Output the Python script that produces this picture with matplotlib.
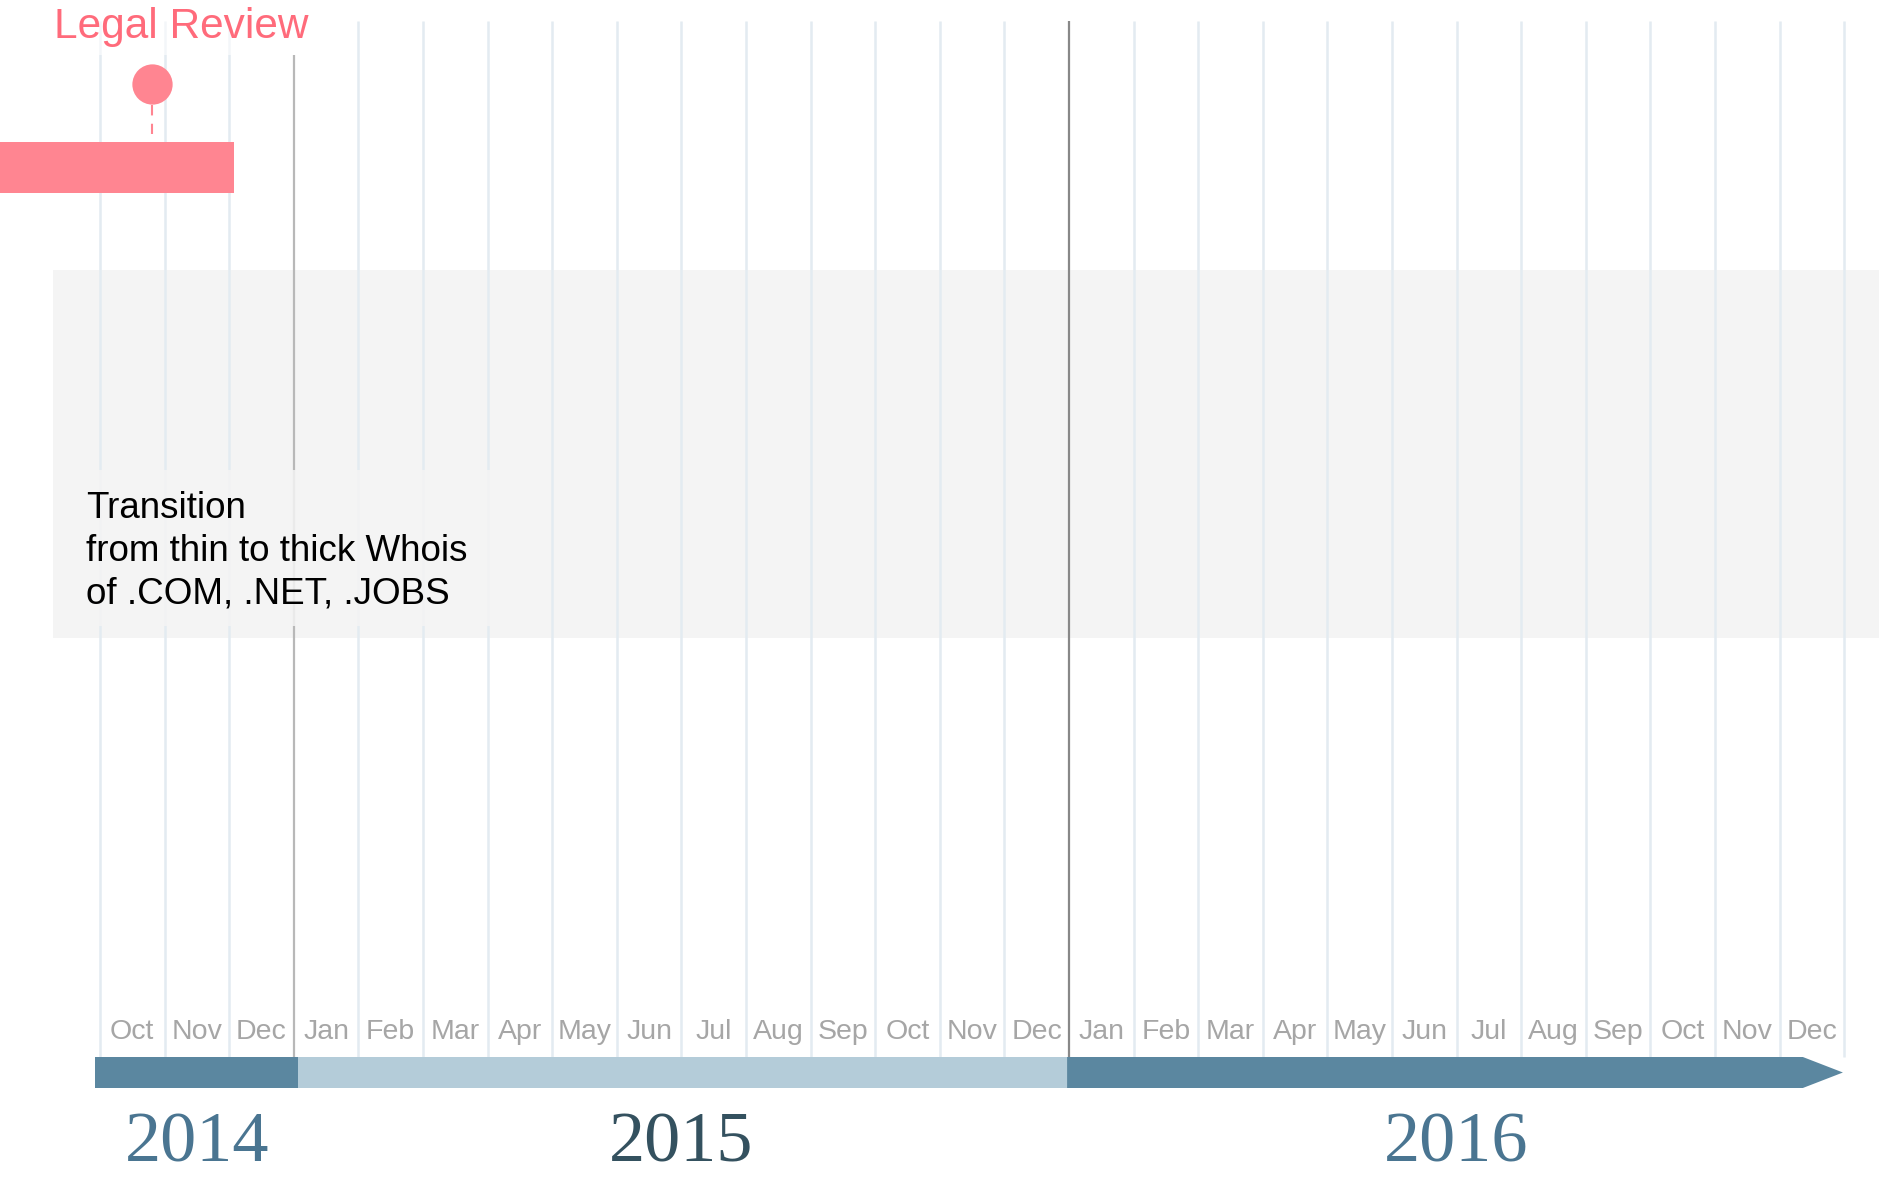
import matplotlib.pyplot as plt
from matplotlib.patches import Rectangle, Polygon

plt.rcParams["font.family"] = ["Liberation Sans", "DejaVu Sans"]

# Data ─────────────────────────────────────────────────────────────────────────
# months counted from Oct 2014 (index 0)
month_labels = ["Oct", "Nov", "Dec"] + ["Jan", "Feb", "Mar", "Apr", "May", "Jun",
                                        "Jul", "Aug", "Sep", "Oct", "Nov", "Dec"] * 2
year_labels = ["2014", "2015", "2016"]
year_first = [0, 3, 15]
year_last = [3, 15, 27]
year_bar_start = [-0.08, 3.06, 14.97]
year_bar_end = [3.06, 14.97, 26.98]
year_boundaries = [3, 15]

event_label = "Legal Review"
event_start, event_end = -1.6, 2.07
event_milestone = 0.80

band_label = "Transition\nfrom thin to thick Whois\nof .COM, .NET, .JOBS"
band_start, band_end = -0.73, 28.0

# Style ────────────────────────────────────────────────────────────────────────
year_bar_colors = ["#5b87a0", "#b4ccd9", "#5b87a0"]
year_text_colors = ["#4a7591", "#34515f", "#4a7591"]
boundary_colors = ["#b8b8b8", "#888888"]
boundary_tops = [55, 21]
pink = "#ff8591"
grid_color = "#e3ebf1"

# vertical layout in pixel rows (top = 0)
GRID_TOP, BAR_TOP, BAR_BOT = 21, 1057, 1088
HEAD = 0.62

fig = plt.figure(figsize=(18.79, 11.79), dpi=100)
ax = fig.add_axes([0, 0, 1, 1])
ax.set_xlim(-100 / 64.6, (1879 - 100) / 64.6)
ax.set_ylim(1179, 0)
ax.axis("off")

# Band ─────────────────────────────────────────────────────────────────────────
ax.add_patch(Rectangle((band_start, 270), band_end - band_start, 368,
                       facecolor="#f4f4f4", edgecolor="none", zorder=0))

# Grid
for m in range(len(month_labels) + 1):
    if m in year_boundaries:
        continue
    ax.plot([m, m], [GRID_TOP, BAR_TOP], color=grid_color, lw=1.8, zorder=1,
            solid_capstyle="butt")
for b, c, t in zip(year_boundaries, boundary_colors, boundary_tops):
    ax.plot([b, b], [t, BAR_TOP], color=c, lw=1.6, zorder=1, solid_capstyle="butt")

# band note
ax.add_patch(Rectangle((band_start, 470), 6.85, 156, facecolor="#f4f4f4",
                       edgecolor="none", alpha=0.85, zorder=2))
ax.text(-0.22, 491, band_label, fontsize=26.5, color="black", va="top", ha="left",
        linespacing=1.28, zorder=3)

# Event ────────────────────────────────────────────────────────────────────────
ax.add_patch(Rectangle((-0.85, 0), 4.7, 55, facecolor="white", edgecolor="none",
                       alpha=0.6, zorder=2))
ax.text(-0.71, 38, event_label, fontsize=30.5, color="#ff6b7b", ha="left",
        va="baseline", zorder=3)
ax.add_patch(Rectangle((event_start, 142), event_end - event_start, 51,
                       facecolor=pink, edgecolor="none", zorder=3))
ax.plot([event_milestone, event_milestone], [105, 134], color=pink, lw=1.5,
        linestyle=(0, (5, 4)), zorder=3)
ax.plot(event_milestone, 84, "o", color=pink, markersize=29, mec="none", zorder=3)

# Timeline bar ─────────────────────────────────────────────────────────────────
for i, (s, e, c) in enumerate(zip(year_bar_start, year_bar_end, year_bar_colors)):
    if i == len(year_labels) - 1:
        pts = [(s, BAR_TOP), (e - HEAD, BAR_TOP), (e, (BAR_TOP + BAR_BOT) / 2),
               (e - HEAD, BAR_BOT), (s, BAR_BOT)]
        ax.add_patch(Polygon(pts, closed=True, facecolor=c, edgecolor="none", zorder=3))
    else:
        ax.add_patch(Rectangle((s, BAR_TOP), e - s, BAR_BOT - BAR_TOP,
                               facecolor=c, edgecolor="none", zorder=3))

for m, lab in enumerate(month_labels):
    ax.text(m + 0.5, 1039, lab, fontsize=20.5, color="#a6a6a6", ha="center",
            va="baseline", zorder=3)

for lab, a, b, c in zip(year_labels, year_first, year_last, year_text_colors):
    ax.text((a + b) / 2, 1162, lab, fontsize=52, color=c, ha="center",
            va="baseline", family="Liberation Serif", zorder=3)

fig.savefig("out.png", dpi=100)
